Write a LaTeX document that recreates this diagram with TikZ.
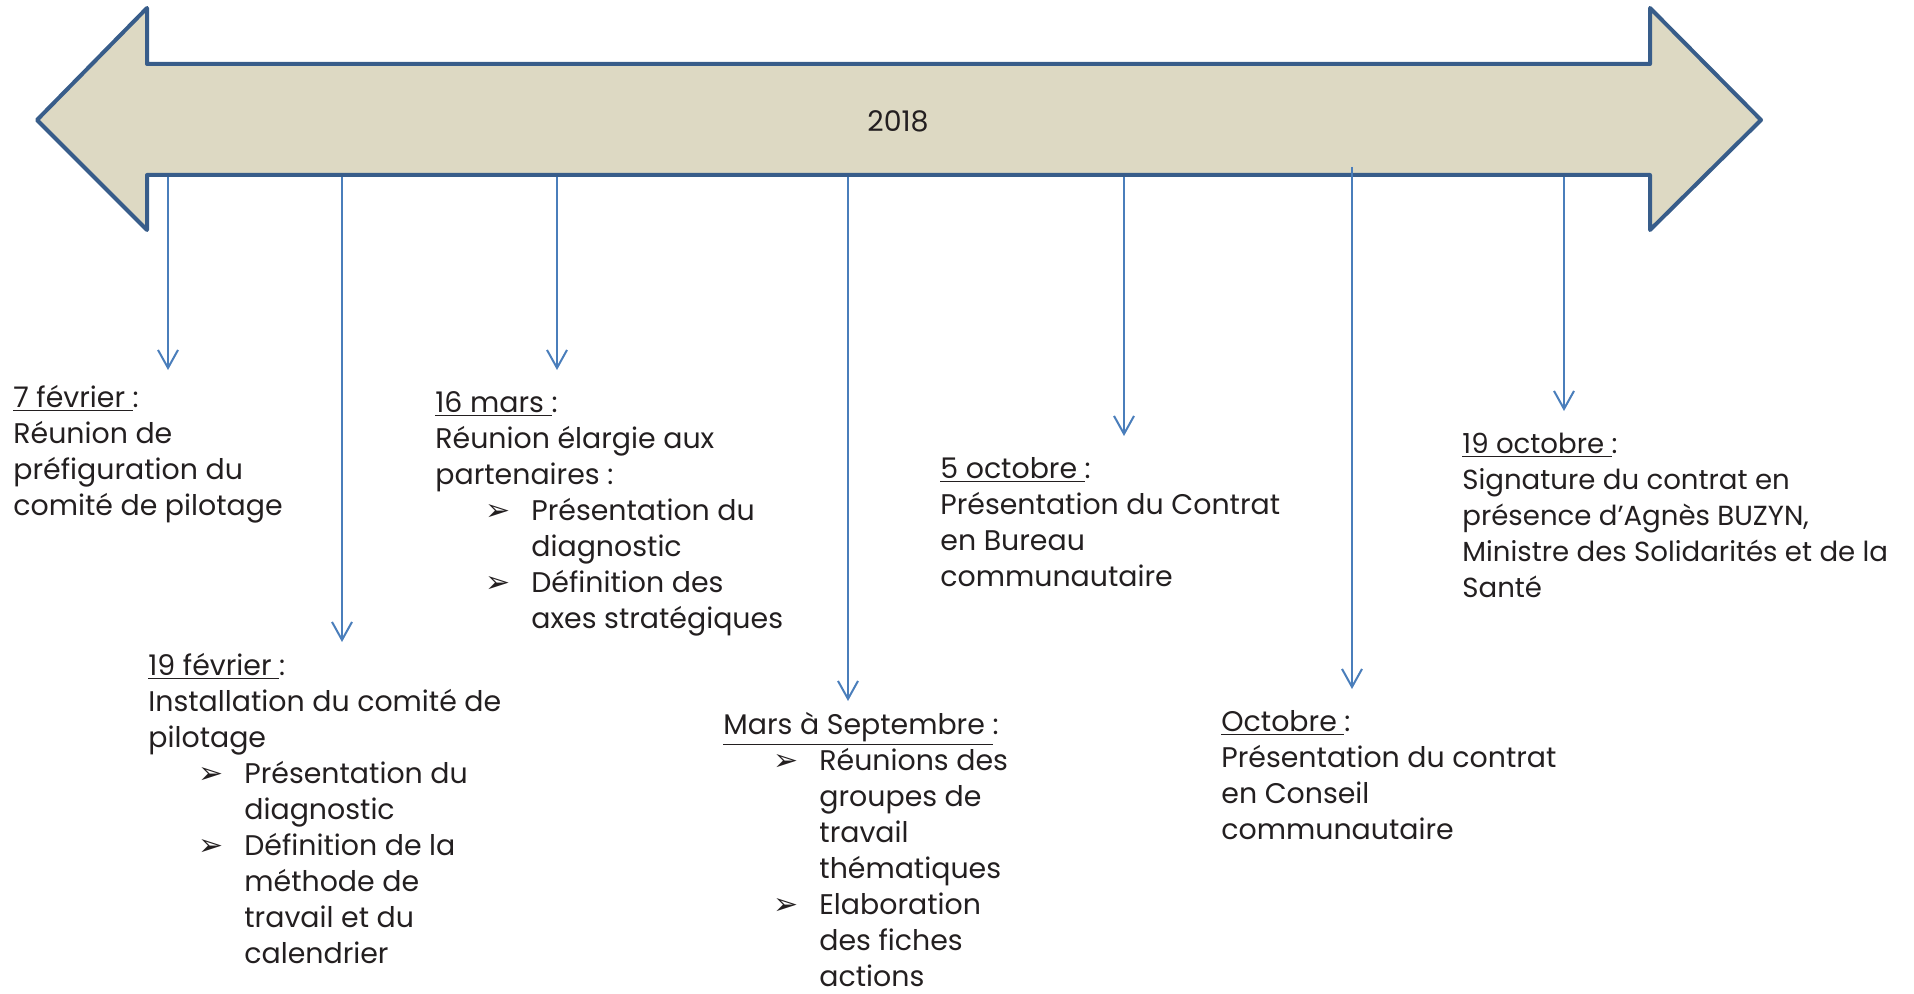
\documentclass[tikz,border=0pt]{standalone}
\usepackage{fontspec}
\setmainfont{Poppins}
\newfontfamily\symfont{DejaVu Sans}
\usetikzlibrary{arrows.meta}
\definecolor{shaftfill}{HTML}{DDD9C3}
\definecolor{shaftline}{HTML}{385D8A}
\definecolor{conn}{HTML}{4A7EBB}
\definecolor{ink}{HTML}{231F20}
\newcommand\bitem[1]{\hspace*{25pt}\makebox[23pt][l]{\symfont\fontsize{15}{18}\selectfont ➢}#1}
\newcommand\bcont[1]{\hspace*{48pt}#1}
\newcommand\datel[1]{\underline{#1\ }:}
\tikzset{
  txt/.style={anchor=base west, align=left, inner sep=0pt, text=ink,
    font=\fontsize{14.2}{18}\selectfont},
  conn/.style={draw=conn, line width=1pt, -{Straight Barb[length=9pt,width=10pt]}},
  timeline/.style={fill=shaftfill, draw=shaftline, line width=2pt, line join=round}
}
\begin{document}
\begin{tikzpicture}[x=0.5pt,y=-0.5pt]
\path[use as bounding box] (0,0) rectangle (1914,994);
\path[timeline] (37,120) -- (147,8) -- (147,64) -- (1650,64) -- (1650,8) -- (1761,120)
  -- (1650,230) -- (1650,175) -- (147,175) -- (147,230) -- cycle;
\node[txt, anchor=center] (year) at (898,121) {2018};
% connector coordinates
\coordinate (s1) at (168,177); \coordinate (e1) at (168,370);
\coordinate (s2) at (342,177); \coordinate (e2) at (342,642);
\coordinate (s3) at (557,177); \coordinate (e3) at (557,370);
\coordinate (s4) at (848,177); \coordinate (e4) at (848,701);
\coordinate (s5) at (1124,177); \coordinate (e5) at (1124,436);
\coordinate (s6) at (1352,167); \coordinate (e6) at (1352,689);
\coordinate (s7) at (1564,177); \coordinate (e7) at (1564,411);
\foreach \i in {1,...,7} {\draw[conn] (s\i) -- (e\i);}
% text blocks (anchor = baseline of the last line)
\node[txt] (b1) at (13,515) {\datel{7 février}\\Réunion de\\préfiguration du\\comité de pilotage};
\node[txt] (b2) at (148,963) {\datel{19 février}\\Installation du comité de\\pilotage\\\bitem{Présentation du}\\\bcont{diagnostic}\\\bitem{Définition de la}\\\bcont{méthode de}\\\bcont{travail et du}\\\bcont{calendrier}};
\node[txt] (b3) at (435,628) {\datel{16 mars}\\Réunion élargie aux\\partenaires :\\\bitem{Présentation du}\\\bcont{diagnostic}\\\bitem{Définition des}\\\bcont{axes stratégiques}};
\node[txt] (b4) at (723,986) {\datel{Mars à Septembre}\\\bitem{Réunions des}\\\bcont{groupes de}\\\bcont{travail}\\\bcont{thématiques}\\\bitem{Elaboration}\\\bcont{des fiches}\\\bcont{actions}};
\node[txt] (b5) at (940,586) {\datel{5 octobre}\\Présentation du Contrat\\en Bureau\\communautaire};
\node[txt] (b6) at (1221,839) {\datel{Octobre}\\Présentation du contrat\\en Conseil\\communautaire};
\node[txt, font=\fontsize{13.8}{18}\selectfont] (b7) at (1462,597) {\datel{19 octobre}\\Signature du contrat en\\présence d’Agnès BUZYN,\\Ministre des Solidarités et de la\\Santé};
\end{tikzpicture}
\end{document}
